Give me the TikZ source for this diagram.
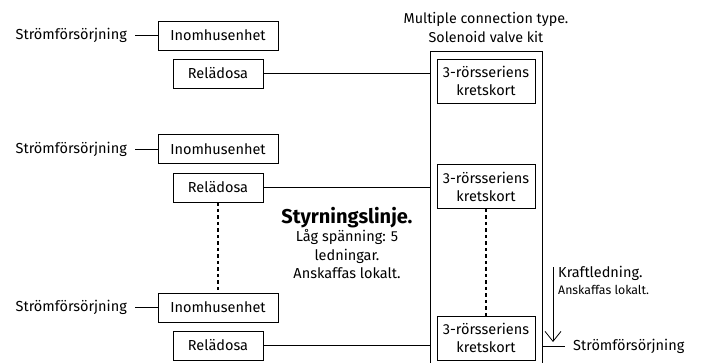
\documentclass[tikz,border=0pt]{standalone}
\usepackage{fontspec}
\setmainfont{Fira Sans}
\usepackage{tikz}
\usetikzlibrary{arrows.meta,positioning,calc}

\tikzset{
  unitbox/.style={draw,thick,inner sep=0pt,minimum height=29pt,font=\fontsize{14.5}{16}\selectfont},
  cardbox/.style={draw,thick,inner sep=0pt,minimum width=98pt,minimum height=44pt,align=center,font=\fontsize{14.5}{18}\selectfont},
  lbl/.style={inner sep=0pt,font=\fontsize{14.5}{16}\selectfont},
  wire/.style={thick},
  ctrl/.style={line width=2.4pt,dash pattern=on 3.5pt off 3pt}
}

\begin{document}
\begin{tikzpicture}[x=1pt,y=-1pt]
\useasboundingbox (0,0) rectangle (703,363);
% kit housing, open below the picture
\node[draw,thick,minimum width=112pt,minimum height=330pt,inner sep=0pt] (kit) at (486,216) {};
\node[lbl,align=center,font=\fontsize{14.3}{19}\selectfont] (kittitle) at (486,28) {Multiple connection type.\\Solenoid valve kit};
\node[cardbox] (krets1) at (486,81) {3-rörsseriens\\kretskort};
\node[cardbox] (krets2) at (486,186.5) {3-rörsseriens\\kretskort};
\node[cardbox] (krets3) at (486,338) {3-rörsseriens\\kretskort};
% indoor units
\node[unitbox,minimum width=120pt] (inom1) at (218,35.5) {Inomhusenhet};
\node[unitbox,minimum width=90pt] (rel1) at (218,73.5) {Relädosa};
\node[unitbox,minimum width=120pt] (inom2) at (218,149) {Inomhusenhet};
\node[unitbox,minimum width=90pt] (rel2) at (218,187.5) {Relädosa};
\node[unitbox,minimum width=120pt] (inom3) at (218,307.5) {Inomhusenhet};
\node[unitbox,minimum width=90pt] (rel3) at (218,345.5) {Relädosa};
\node[lbl,anchor=east] (sup1) at (127,35.5) {Strömförsörjning};
\node[lbl,anchor=east] (sup2) at (127,149) {Strömförsörjning};
\node[lbl,anchor=east] (sup3) at (127,307.5) {Strömförsörjning};
\draw[wire] ([xshift=8pt]sup1.east) -- (inom1);
\draw[wire] ([xshift=8pt]sup2.east) -- (inom2);
\draw[wire] ([xshift=8pt]sup3.east) -- (inom3);
\draw[wire] (rel1) -- (rel1 -| kit.west);
\draw[wire] (rel2) -- (rel2 -| kit.west);
\draw[wire] (rel3) -- (rel3 -| kit.west);
\draw[ctrl] (rel2) -- (inom3);
\draw[ctrl] (krets2) -- (krets3);
% control line note
\node[lbl,align=center,font=\fontsize{14.5}{18.5}\selectfont] (ctrlnote) at (347,243)
  {{\fontsize{20}{20}\selectfont\bfseries Styrningslinje.}\\Låg spänning: 5\\ledningar.\\Anskaffas lokalt.};
% power line
\node[lbl,anchor=west] (sup4) at (573,346) {Strömförsörjning};
\draw[wire] (kit.east |- sup4.west) -- ([xshift=-8pt]sup4.west);
\coordinate (pwrtop) at (553,267);
\coordinate (pwrtip) at (553,342);
\draw[thick,-{Straight Barb[length=10pt,width=16pt]}] (pwrtop) -- (pwrtip);
\node[lbl,anchor=west] (pwrnote) at (558,273) {Kraftledning.};
\node[lbl,anchor=west,font=\fontsize{12.3}{14}\selectfont] (pwrnote2) at (558,290) {Anskaffas lokalt.};
\end{tikzpicture}
\end{document}
